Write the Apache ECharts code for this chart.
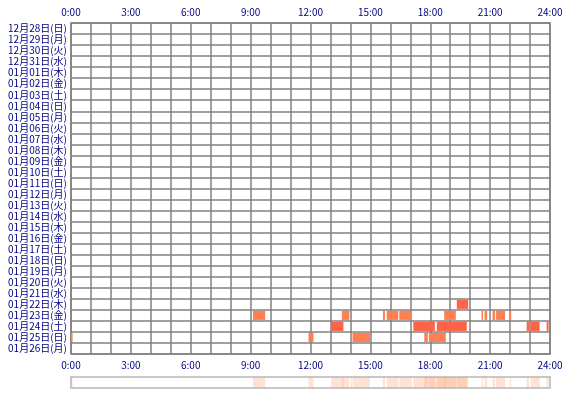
<!DOCTYPE html>
<html><head><meta charset="utf-8">
<script src="https://cdn.jsdelivr.net/npm/echarts@6/dist/echarts.min.js"></script>
<style>html,body{margin:0;padding:0;background:#fff}#c{width:570px;height:400px}</style>
</head><body><div id="c"></div>
<script>
const dates = ['12月28日(日)','12月29日(月)','12月30日(火)','12月31日(水)','01月01日(木)','01月02日(金)','01月03日(土)','01月04日(日)','01月05日(月)','01月06日(火)','01月07日(水)','01月08日(木)','01月09日(金)','01月10日(土)','01月11日(日)','01月12日(月)','01月13日(火)','01月14日(水)','01月15日(木)','01月16日(金)','01月17日(土)','01月18日(日)','01月19日(月)','01月20日(火)','01月21日(水)','01月22日(木)','01月23日(金)','01月24日(土)','01月25日(日)','01月26日(月)'];
const hourTicks = ['0:00','3:00','6:00','9:00','12:00','15:00','18:00','21:00','24:00'];
// activity intervals [start hour, end hour] per day
const jan22 = [[19.33,19.9]];
const jan23 = [[9.12,9.73],[13.57,13.95],[15.63,15.73],[15.82,16.4],[16.45,17.08],[18.7,19.28],[20.57,20.63],[20.72,20.85],[21.12,21.25],[21.3,21.75],[21.98,22.05]];
const jan24 = [[13.03,13.65],[17.15,18.23],[18.33,19.83],[22.83,22.95],[23.03,23.48],[23.83,23.93]];
const jan25 = [[0,0.08],[11.9,12.15],[14.02,14.08],[14.12,14.98],[17.7,17.88],[17.93,18.78]];
const dayData = [['01月22日(木)',jan22,'#ff6347'],['01月23日(金)',jan23,'#ff7f50'],['01月24日(土)',jan24,'#ff6347'],['01月25日(日)',jan25,'#ff7f50']];

const items=[], strip=[];
dayData.forEach(([d,arr,col])=>arr.forEach(([s,e])=>{items.push({value:[d,s,e],itemStyle:{color:col}});strip.push([s,e]);}));

const chart = echarts.init(document.getElementById('c'));
const lbl = {color:'#000080',fontSize:10,fontFamily:'Noto Sans CJK JP'};
const xBase = {type:'value',min:0,max:24,interval:1,
  axisLine:{show:false},axisTick:{show:false},
  splitLine:{show:true,lineStyle:{color:'#808080',width:1.5}},
  axisLabel:Object.assign({},lbl,{margin:6,formatter:v=>v%3===0?hourTicks[v/3]:''})};
chart.setOption({
  animation:false,
  grid:[{left:71,right:20,top:23,height:331,show:true,borderColor:'#808080',borderWidth:1.5},
        {left:71,right:20,top:377,height:11,show:true,borderColor:'#c8c8c8',borderWidth:2}],
  xAxis:[Object.assign({},xBase,{position:'top',gridIndex:0}),
         Object.assign({},xBase,{position:'bottom',gridIndex:0,offset:0,splitLine:{show:false}}),
         {type:'value',min:0,max:24,gridIndex:1,show:false}],
  yAxis:[{type:'category',data:dates,inverse:true,gridIndex:0,
          axisLine:{show:false},axisTick:{show:false},
          splitLine:{show:true,lineStyle:{color:'#808080',width:1.5}},
          axisLabel:Object.assign({},lbl,{margin:4,interval:0})},
         {type:'value',min:0,max:1,gridIndex:1,show:false}],
  series:[
    {type:'custom',xAxisIndex:0,yAxisIndex:0,data:items,
     renderItem:(p,api)=>{const a=api.coord([api.value(1),api.value(0)]);const b=api.coord([api.value(2),api.value(0)]);
       const h=api.size([0,1])[1];
       return {type:'rect',shape:{x:a[0],y:a[1]-h/2+1,width:Math.max(b[0]-a[0],1.5),height:h-2},style:{fill:api.visual('color')}};},
     encode:{x:[1,2],y:0}},
    {type:'custom',xAxisIndex:2,yAxisIndex:1,data:strip,
     renderItem:(p,api)=>{const a=api.coord([api.value(0),1]);const b=api.coord([api.value(1),0]);
       return {type:'rect',shape:{x:a[0],y:a[1],width:Math.max(b[0]-a[0],1.5),height:b[1]-a[1]},style:{fill:'rgba(255,160,110,0.3)'}};},
     encode:{x:[0,1]}}
  ]
});
</script></body></html>
